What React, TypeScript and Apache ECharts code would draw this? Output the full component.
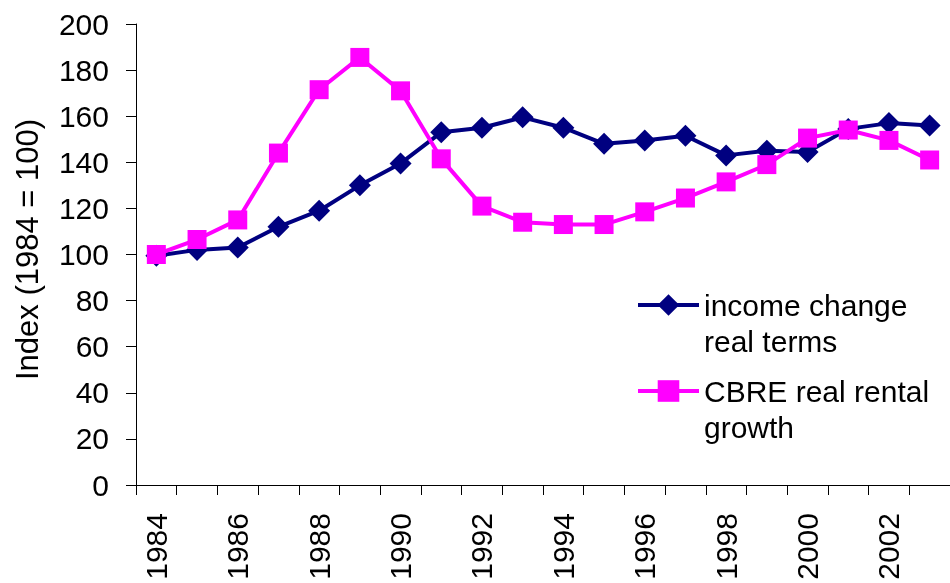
import React, { useEffect, useRef } from 'react';
import * as echarts from 'echarts';

const years = ['1984', '1985', '1986', '1987', '1988', '1989', '1990', '1991', '1992', '1993', '1994', '1995', '1996', '1997', '1998', '1999', '2000', '2001', '2002', '2003'];
const incomeChange = [99.5, 102, 103, 112, 119, 130, 139.5, 153, 155, 159.5, 155, 148, 149.5, 151.5, 143, 145, 144.5, 154.5, 157, 156];
const cbreRental = [100, 106.5, 115, 144, 171.5, 185.5, 171, 141.5, 121, 114, 113, 113, 118.5, 124.5, 131.5, 139, 150.5, 154, 149.5, 141];
const incomeName = 'income change\nreal terms';
const cbreName = 'CBRE real rental\ngrowth';
const yAxisName = 'Index (1984 = 100)';

const FONT = "'Liberation Sans', Arial, sans-serif";
const NAVY = '#000080';
const MAGENTA = '#FF00FF';

export default function App() {
  const ref = useRef<HTMLDivElement>(null);
  useEffect(() => {
    const chart = echarts.init(ref.current!, null, { renderer: 'svg' });
    const legendText = {
      fontSize: 30,
      lineHeight: 36,
      color: '#000',
      fontFamily: FONT,
      rich: {
        s: { fontSize: 30, lineHeight: 36, height: 36, fontFamily: FONT },
        a: { fontSize: 30, lineHeight: 36, color: '#000', fontFamily: FONT },
      },
    };
    const legendFormatter = (name: string) =>
      '{s| }\n' + name.split('\n').map((l) => '{a|' + l + '}').join('\n');
    const legendCommon = {
      orient: 'vertical',
      itemWidth: 61,
      itemHeight: 27,
      selectedMode: false,
      lineStyle: { width: 4 },
      textStyle: legendText,
      formatter: legendFormatter,
    };
    chart.setOption({
      animation: false,
      textStyle: { fontFamily: FONT },
      grid: { left: 136, top: 24, width: 820, height: 461, containLabel: false },
      xAxis: {
        type: 'category',
        data: years,
        boundaryGap: true,
        axisLine: { show: true, lineStyle: { color: '#000', width: 1 } },
        axisTick: { show: true, interval: 0, length: 10, lineStyle: { color: '#000', width: 1 } },
        axisLabel: { interval: 1, rotate: 90, margin: 28, fontSize: 30, color: '#000', fontFamily: FONT },
        splitLine: { show: false },
      },
      yAxis: {
        type: 'value',
        min: 0,
        max: 200,
        interval: 20,
        name: yAxisName,
        nameLocation: 'middle',
        nameRotate: 90,
        nameGap: 93,
        nameTextStyle: { fontSize: 31, color: '#000', fontFamily: FONT, padding: [0, 0, 0, 10] },
        axisLine: { show: true, lineStyle: { color: '#000', width: 1 } },
        axisTick: { show: true, length: 10, lineStyle: { color: '#000', width: 1 } },
        axisLabel: { margin: 27, fontSize: 30, color: '#000', fontFamily: FONT },
        splitLine: { show: false },
      },
      legend: [
        { ...legendCommon, left: 631, top: 246, data: [{ name: incomeName }] },
        { ...legendCommon, left: 631, top: 332, data: [{ name: cbreName }] },
      ],
      series: [
        {
          name: incomeName,
          type: 'line',
          data: incomeChange,
          symbol: 'diamond',
          symbolSize: 22,
          lineStyle: { color: NAVY, width: 4 },
          itemStyle: { color: NAVY },
          z: 2,
        },
        {
          name: cbreName,
          type: 'line',
          data: cbreRental,
          symbol: 'rect',
          symbolSize: 19,
          lineStyle: { color: MAGENTA, width: 4 },
          itemStyle: { color: MAGENTA },
          z: 3,
        },
      ],
    });
    return () => chart.dispose();
  }, []);
  return <div ref={ref} style={{ position: 'fixed', left: 0, top: 0, width: 950, height: 583 }} />;
}
